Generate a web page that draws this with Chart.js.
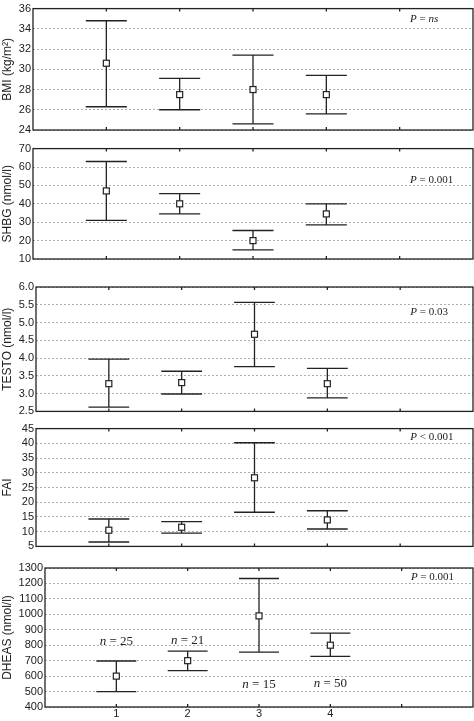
<!DOCTYPE html>
<html><head><meta charset="utf-8">
<script src="https://cdn.jsdelivr.net/npm/chart.js@4"></script>
<style>body{margin:0;background:#fff;width:474px;height:721px;position:relative;overflow:hidden}canvas{position:absolute;left:0}</style>
</head><body>
<script>
const groups = [1,2,3,4];
const xTickLabels = ['1','2','3','4'];
const bmiMean=[30.6,27.5,28.0,27.5], bmiLo=[26.3,26.0,24.6,25.6], bmiHi=[34.8,29.1,31.4,29.4];
const shbgMean=[47,40,20,34.5], shbgLo=[31,34.5,15,28.5], shbgHi=[63,45.5,25.5,40];
const testoMean=[3.28,3.31,4.67,3.28], testoLo=[2.62,2.99,3.76,2.88], testoHi=[3.97,3.63,5.57,3.71];
const faiMean=[10.5,11.5,28.3,14.0], faiLo=[6.5,9.5,16.6,10.9], faiHi=[14.3,13.4,40.2,17.1];
const dheasMean=[600,700,990,800], dheasLo=[500,635,755,728], dheasHi=[698,762,1232,878];
const nLabels=['n = 25','n = 21','n = 15','n = 50'], nLabelY=[825,830,545,550];

const panels=[
 {title:['BMI (kg/m²)'],mean:bmiMean,lo:bmiLo,hi:bmiHi,min:24,max:36,step:2,p:['P',' = ','ns'],pY:35,top:0,h:140,pt:5,pb:10,w:33,dec:0},
 {title:['SHBG (nmol/l)'],mean:shbgMean,lo:shbgLo,hi:shbgHi,min:10,max:70,step:10,p:['P',' = 0.001',''],pY:53,top:140,h:130,pt:5,pb:11,w:33,dec:0},
 {title:['TESTO (nmol/l)'],mean:testoMean,lo:testoLo,hi:testoHi,min:2.5,max:6,step:0.5,p:['P',' = 0.03',''],pY:5.3,top:270,h:150,pt:17,pb:8,w:36,dec:1},
 {title:['FAI'],mean:faiMean,lo:faiLo,hi:faiHi,min:5,max:45,step:5,p:['P',' < 0.001',''],pY:42,top:420,h:135,pt:8,pb:2,w:36,dec:0},
 {title:['DHEAS (nmol/l)'],mean:dheasMean,lo:dheasLo,hi:dheasHi,min:400,max:1300,step:100,p:['P',' = 0.001',''],pY:1240,top:555,h:166,pt:13,pb:0,w:45,dec:0,last:true}
];

const errPlugin={id:'err',
 afterDatasetsDraw(c){
  const o=c.options.plugins.err, x=c.scales.x, y=c.scales.y, ctx=c.ctx, a=c.chartArea;
  ctx.save();
  ctx.strokeStyle='#222';ctx.lineWidth=1.3;
  ctx.strokeRect(a.left,a.top,a.right-a.left,a.bottom-a.top);
  for(let k=1;k<=5;k++){const px=x.getPixelForValue(k);
   ctx.beginPath();ctx.moveTo(px,a.top);ctx.lineTo(px,a.top+3);ctx.moveTo(px,a.bottom);ctx.lineTo(px,a.bottom-3);ctx.stroke();}
  groups.forEach((g,i)=>{
   const px=x.getPixelForValue(g), hw=x.getPixelForValue(g+0.28)-px;
   const yl=y.getPixelForValue(o.lo[i]), yh=y.getPixelForValue(o.hi[i]), ym=y.getPixelForValue(o.mean[i]);
   ctx.beginPath();
   ctx.moveTo(px,yh);ctx.lineTo(px,ym-3);ctx.moveTo(px,ym+3);ctx.lineTo(px,yl);
   ctx.moveTo(px-hw,yh);ctx.lineTo(px+hw,yh);ctx.moveTo(px-hw,yl);ctx.lineTo(px+hw,yl);ctx.stroke();
   ctx.fillStyle='#fff';ctx.fillRect(px-3,ym-3,6,6);ctx.lineWidth=1.2;ctx.strokeRect(px-3,ym-3,6,6);ctx.lineWidth=1.3;
  });
  ctx.fillStyle='#222';ctx.textBaseline='middle';
  const py=y.getPixelForValue(o.pY); let tx=x.getPixelForValue(5.55)-30;
  ctx.font='italic 11px "Liberation Serif"';ctx.fillText(o.p[0],tx,py);tx+=ctx.measureText(o.p[0]).width;
  ctx.font='11px "Liberation Serif"';ctx.fillText(o.p[1],tx,py);tx+=ctx.measureText(o.p[1]).width;
  ctx.font='italic 11px "Liberation Serif"';ctx.fillText(o.p[2],tx,py);
  if(o.last){
   nLabels.forEach((t,i)=>{const px=x.getPixelForValue(groups[i]), yy=y.getPixelForValue(nLabelY[i]);
    const parts=t.split(' = ');ctx.font='italic 13px "Liberation Serif"';const w1=ctx.measureText('n').width;
    ctx.font='13px "Liberation Serif"';const w2=ctx.measureText(' = '+parts[1]).width;
    const sx=px-(w1+w2)/2; ctx.textAlign='left';
    ctx.font='italic 13px "Liberation Serif"';ctx.fillText('n',sx,yy);
    ctx.font='13px "Liberation Serif"';ctx.fillText(' = '+parts[1],sx+w1,yy);});
  }
  ctx.restore();
 }};

panels.forEach(p=>{
 const d=document.createElement('div');d.style.cssText=`position:absolute;left:0;top:${p.top}px;width:474px;height:${p.h}px`;
 const cv=document.createElement('canvas');d.appendChild(cv);document.body.appendChild(d);
 const xs={type:'linear',min:0,max:6,display:!!p.last,grid:{display:false,drawTicks:false},border:{display:false},
       afterBuildTicks(s){s.ticks=groups.map(v=>({value:v}));},
       ticks:{autoSkip:false,maxRotation:0,color:'#222',font:{family:'Liberation Sans',size:11},padding:0,callback:(v)=>xTickLabels[groups.indexOf(v)]}};
 if(p.last) xs.afterFit=function(s){s.height=14;};
 new Chart(cv,{type:'scatter',plugins:[errPlugin],
  data:{datasets:[{data:groups.map((g,i)=>({x:g,y:p.mean[i]})),pointRadius:0}]},
  options:{responsive:true,maintainAspectRatio:false,animation:false,
   layout:{padding:{top:p.pt,bottom:p.pb,right:1,left:0}},
   plugins:{legend:{display:false},tooltip:{enabled:false},err:p},
   scales:{
    x:xs,
    y:{min:p.min,max:p.max,afterFit(s){s.width=p.w;},
       grid:{color:'#999',lineWidth:0.8,drawTicks:false},border:{display:false,dash:[2,2]},
       title:{display:true,text:p.title[0],color:'#222',font:{family:'Liberation Sans',size:12},padding:0},
       ticks:{stepSize:p.step,autoSkip:false,color:'#222',padding:2,font:{family:'Liberation Sans',size:11},callback:v=>v.toFixed(p.dec)}}
   }}});
});
</script>
</body></html>
